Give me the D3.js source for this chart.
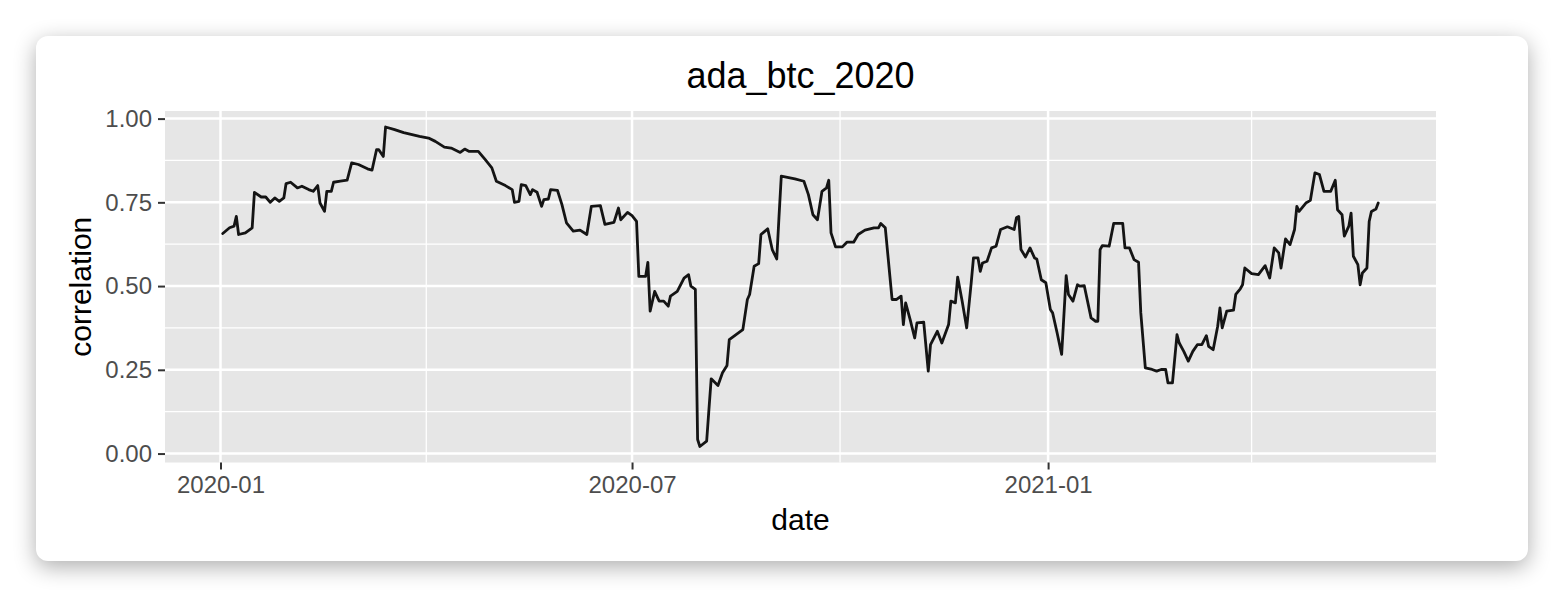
<!DOCTYPE html>
<html>
<head>
<meta charset="utf-8">
<script src="https://cdn.jsdelivr.net/npm/d3@7"></script>
<style>
  html, body { margin: 0; padding: 0; background: #ffffff; width: 1564px; height: 598px; overflow: hidden; }
  #card { position: absolute; left: 36px; top: 36px; width: 1492px; height: 525px; background: #fff;
          border-radius: 12px; box-shadow: 0 6px 22px rgba(0,0,0,0.32); }
  svg { position: absolute; left: 0; top: 0; }
  text { font-family: "Liberation Sans", Arial, Helvetica, sans-serif; }
</style>
</head>
<body>
<div id="card"></div>
<svg id="chart" width="1564" height="598"></svg>
<script>
const chartTitle = "ada_btc_2020";
const xTitle = "date";
const yTitle = "correlation";
const xMajorTicks = ["2020-01", "2020-07", "2021-01"];
const xMinorTicks = ["2020-04", "2020-10", "2021-04"];
const yMajorTicks = [0, 0.25, 0.5, 0.75, 1.0];
const yMinorTicks = [0.125, 0.375, 0.625, 0.875];

const dates = [
"2020-01-02","2020-01-05","2020-01-07","2020-01-08","2020-01-09","2020-01-12","2020-01-15","2020-01-16",
"2020-01-19","2020-01-21","2020-01-23","2020-01-25","2020-01-27","2020-01-29","2020-01-30","2020-02-01",
"2020-02-04","2020-02-06","2020-02-09","2020-02-11","2020-02-13","2020-02-14","2020-02-16","2020-02-17",
"2020-02-19","2020-02-20","2020-02-23","2020-02-26","2020-02-28","2020-03-02","2020-03-06","2020-03-08",
"2020-03-10","2020-03-11","2020-03-13","2020-03-14","2020-03-18","2020-03-22","2020-03-29","2020-04-02",
"2020-04-05","2020-04-09","2020-04-12","2020-04-16","2020-04-18","2020-04-20","2020-04-24","2020-04-27",
"2020-04-30","2020-05-02","2020-05-06","2020-05-09","2020-05-10","2020-05-12","2020-05-13","2020-05-15",
"2020-05-17","2020-05-18","2020-05-20","2020-05-22","2020-05-23","2020-05-25","2020-05-26","2020-05-29",
"2020-05-31","2020-06-02","2020-06-05","2020-06-08","2020-06-11","2020-06-13","2020-06-17","2020-06-19",
"2020-06-23","2020-06-25","2020-06-26","2020-06-29","2020-07-01","2020-07-03","2020-07-04","2020-07-07",
"2020-07-08","2020-07-09","2020-07-11","2020-07-13","2020-07-15","2020-07-17","2020-07-18","2020-07-21",
"2020-07-24","2020-07-26","2020-07-27","2020-07-29","2020-07-30","2020-07-31","2020-08-03","2020-08-04",
"2020-08-05","2020-08-08","2020-08-10","2020-08-12","2020-08-13","2020-08-16","2020-08-19","2020-08-21",
"2020-08-22","2020-08-24","2020-08-26","2020-08-27","2020-08-30","2020-09-01","2020-09-03","2020-09-04",
"2020-09-05","2020-09-11","2020-09-15","2020-09-17","2020-09-19","2020-09-21","2020-09-23","2020-09-25",
"2020-09-26","2020-09-27","2020-09-29","2020-10-02","2020-10-04","2020-10-07","2020-10-09","2020-10-12",
"2020-10-16","2020-10-18","2020-10-19","2020-10-21","2020-10-24","2020-10-26","2020-10-28","2020-10-29",
"2020-10-30","2020-11-01","2020-11-03","2020-11-04","2020-11-07","2020-11-09","2020-11-10","2020-11-13",
"2020-11-15","2020-11-18","2020-11-19","2020-11-21","2020-11-22","2020-11-24","2020-11-26","2020-11-28",
"2020-11-29","2020-12-01","2020-12-02","2020-12-03","2020-12-05","2020-12-07","2020-12-09","2020-12-11",
"2020-12-14","2020-12-17","2020-12-18","2020-12-19","2020-12-20","2020-12-22","2020-12-24","2020-12-26",
"2020-12-27","2020-12-29","2020-12-31","2021-01-02","2021-01-03","2021-01-05","2021-01-07","2021-01-09",
"2021-01-10","2021-01-12","2021-01-14","2021-01-15","2021-01-17","2021-01-20","2021-01-22","2021-01-23",
"2021-01-24","2021-01-25","2021-01-28","2021-01-30","2021-02-03","2021-02-04","2021-02-06","2021-02-08",
"2021-02-10","2021-02-11","2021-02-13","2021-02-16","2021-02-18","2021-02-20","2021-02-22","2021-02-23",
"2021-02-25","2021-02-27","2021-02-28","2021-03-02","2021-03-04","2021-03-06","2021-03-08","2021-03-10",
"2021-03-12","2021-03-13","2021-03-15","2021-03-17","2021-03-18","2021-03-19","2021-03-21","2021-03-24",
"2021-03-25","2021-03-27","2021-03-28","2021-03-29","2021-04-01","2021-04-04","2021-04-07","2021-04-09",
"2021-04-11","2021-04-13","2021-04-14","2021-04-16","2021-04-18","2021-04-20","2021-04-21","2021-04-22",
"2021-04-25","2021-04-27","2021-04-29","2021-05-01","2021-05-03","2021-05-06","2021-05-08","2021-05-09",
"2021-05-11","2021-05-12","2021-05-14","2021-05-15","2021-05-16","2021-05-18","2021-05-19","2021-05-20",
"2021-05-22","2021-05-23","2021-05-24","2021-05-26","2021-05-27"
];

const correlation = [
0.657,0.674,0.679,0.708,0.654,0.659,0.674,0.780,
0.766,0.766,0.750,0.763,0.753,0.763,0.806,0.810,
0.793,0.798,0.788,0.783,0.800,0.748,0.723,0.783,
0.783,0.810,0.813,0.816,0.868,0.863,0.850,0.846,
0.907,0.907,0.887,0.975,0.967,0.958,0.947,0.942,
0.932,0.915,0.912,0.899,0.909,0.902,0.902,0.878,
0.853,0.813,0.800,0.788,0.750,0.753,0.803,0.800,
0.773,0.788,0.780,0.738,0.758,0.760,0.788,0.786,
0.743,0.689,0.664,0.667,0.654,0.738,0.740,0.684,
0.690,0.733,0.698,0.720,0.710,0.693,0.529,0.529,
0.571,0.425,0.484,0.455,0.455,0.440,0.470,0.484,
0.524,0.534,0.500,0.490,0.042,0.021,0.037,0.131,
0.223,0.203,0.241,0.263,0.340,0.355,0.370,0.460,
0.475,0.559,0.567,0.654,0.671,0.609,0.581,0.708,
0.828,0.820,0.813,0.773,0.713,0.698,0.783,0.793,
0.816,0.659,0.617,0.617,0.631,0.631,0.654,0.667,
0.674,0.674,0.687,0.674,0.460,0.460,0.470,0.385,
0.450,0.400,0.345,0.390,0.392,0.246,0.325,0.365,
0.330,0.385,0.455,0.450,0.527,0.455,0.375,0.510,
0.584,0.584,0.544,0.569,0.574,0.614,0.619,0.669,
0.677,0.669,0.704,0.708,0.609,0.587,0.614,0.584,
0.581,0.519,0.510,0.430,0.420,0.360,0.296,0.531,
0.475,0.455,0.504,0.500,0.501,0.405,0.395,0.395,
0.609,0.621,0.619,0.687,0.687,0.614,0.614,0.579,
0.571,0.420,0.256,0.251,0.246,0.251,0.251,0.211,
0.211,0.355,0.330,0.305,0.276,0.305,0.325,0.325,
0.352,0.320,0.310,0.380,0.435,0.375,0.425,0.428,
0.475,0.492,0.504,0.554,0.537,0.534,0.561,0.524,
0.614,0.599,0.554,0.641,0.624,0.669,0.738,0.723,
0.748,0.756,0.838,0.833,0.783,0.783,0.816,0.728,
0.713,0.649,0.679,0.718,0.589,0.564,0.504,0.539,
0.554,0.693,0.723,0.730,0.748
];

const parse = d3.utcParse("%Y-%m-%d");
const parseMonth = d3.utcParse("%Y-%m");
const data = dates.map((d, i) => ({ date: parse(d), value: correlation[i] }));

const panel = { left: 165, top: 111, right: 1436, bottom: 462.5 };

function expand(ext) {
  const pad = (ext[1] - ext[0]) * 0.05;
  return [ext[0] - pad, ext[1] + pad];
}
const xExt = d3.extent(data, d => +d.date);
const xDom = expand(xExt);
const x = d3.scaleUtc().domain([new Date(xDom[0]), new Date(xDom[1])]).range([panel.left, panel.right]);
const y = d3.scaleLinear().domain(expand(d3.extent(data, d => d.value))).range([panel.bottom, panel.top]);

const svg = d3.select("#chart");

// panel background
svg.append("rect")
  .attr("x", panel.left).attr("y", panel.top)
  .attr("width", panel.right - panel.left).attr("height", panel.bottom - panel.top)
  .attr("fill", "#e6e6e6");

const grid = svg.append("g");
// minor grid
grid.selectAll(".ymin").data(yMinorTicks).enter().append("line")
  .attr("x1", panel.left).attr("x2", panel.right)
  .attr("y1", d => y(d)).attr("y2", d => y(d))
  .attr("stroke", "#fff").attr("stroke-width", 1.3);
grid.selectAll(".xmin").data(xMinorTicks).enter().append("line")
  .attr("y1", panel.top).attr("y2", panel.bottom)
  .attr("x1", d => x(parseMonth(d))).attr("x2", d => x(parseMonth(d)))
  .attr("stroke", "#fff").attr("stroke-width", 1.3);
// major grid
grid.selectAll(".ymaj").data(yMajorTicks).enter().append("line")
  .attr("x1", panel.left).attr("x2", panel.right)
  .attr("y1", d => y(d)).attr("y2", d => y(d))
  .attr("stroke", "#fff").attr("stroke-width", 2.5);
grid.selectAll(".xmaj").data(xMajorTicks).enter().append("line")
  .attr("y1", panel.top).attr("y2", panel.bottom)
  .attr("x1", d => x(parseMonth(d))).attr("x2", d => x(parseMonth(d)))
  .attr("stroke", "#fff").attr("stroke-width", 2.5);

// line
svg.append("path")
  .datum(data)
  .attr("fill", "none")
  .attr("stroke", "#141414")
  .attr("stroke-width", 2.8)
  .attr("stroke-linejoin", "round")
  .attr("stroke-linecap", "round")
  .attr("d", d3.line().x(d => x(d.date)).y(d => y(d.value)));

// axes
const yAxis = d3.axisLeft(y).tickValues(yMajorTicks).tickFormat(d3.format(".2f"))
  .tickSizeInner(7).tickSizeOuter(0).tickPadding(6);
const gy = svg.append("g").attr("transform", `translate(${panel.left},0)`).call(yAxis);
gy.select(".domain").remove();
gy.selectAll(".tick line").attr("stroke", "#333").attr("stroke-width", 2);
gy.selectAll(".tick text").attr("fill", "#4d4d4d").style("font-size", "24px")
  .style("font-family", "'Liberation Sans', Arial, sans-serif");

const xAxis = d3.axisBottom(x).tickValues(xMajorTicks.map(parseMonth)).tickFormat(d3.utcFormat("%Y-%m"))
  .tickSizeInner(7).tickSizeOuter(0).tickPadding(6);
const gx = svg.append("g").attr("transform", `translate(0,${panel.bottom})`).call(xAxis);
gx.select(".domain").remove();
gx.selectAll(".tick line").attr("stroke", "#333").attr("stroke-width", 2);
gx.selectAll(".tick text").attr("fill", "#4d4d4d").style("font-size", "24px")
  .style("font-family", "'Liberation Sans', Arial, sans-serif");

// titles
const cx = (panel.left + panel.right) / 2;
svg.append("text").attr("x", cx).attr("y", 88).attr("text-anchor", "middle")
  .style("font-size", "36px").attr("fill", "#000").text(chartTitle);
svg.append("text").attr("x", cx).attr("y", 530).attr("text-anchor", "middle")
  .style("font-size", "30px").attr("fill", "#000").text(xTitle);
svg.append("text")
  .attr("transform", `translate(91,${(panel.top + panel.bottom) / 2}) rotate(-90)`)
  .attr("text-anchor", "middle")
  .style("font-size", "30px").attr("fill", "#000").text(yTitle);
</script>
</body>
</html>
